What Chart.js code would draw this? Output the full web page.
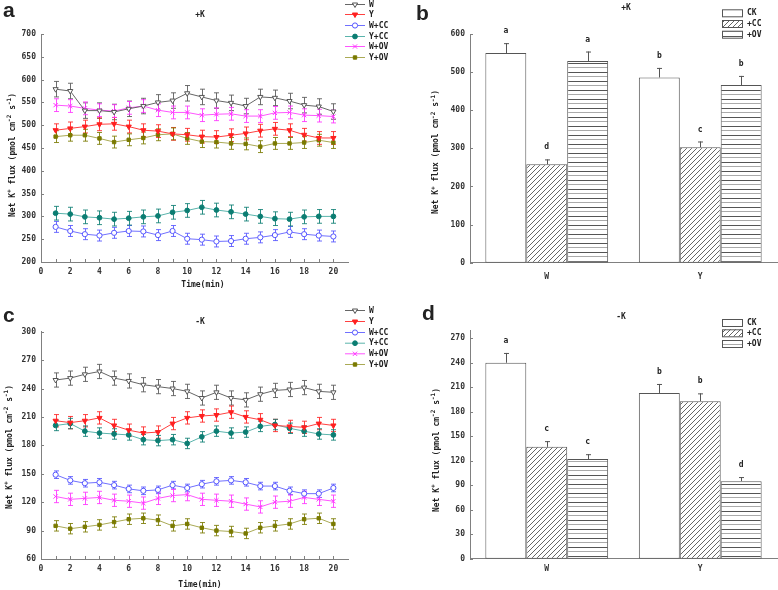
<!DOCTYPE html>
<html>
<head>
<meta charset="utf-8">
<script src="https://cdn.jsdelivr.net/npm/chart.js@4.4.1/dist/chart.umd.min.js"></script>
<style>
  body { margin: 0; background: #fff; width: 778px; height: 590px; position: relative; overflow: hidden; }
  canvas { position: absolute; }
</style>
</head>
<body>
<canvas id="chartA" width="390" height="295" style="left:0;top:0"></canvas>
<canvas id="chartB" width="388" height="295" style="left:390px;top:0"></canvas>
<canvas id="chartC" width="390" height="295" style="left:0;top:295px"></canvas>
<canvas id="chartD" width="388" height="295" style="left:390px;top:295px"></canvas>
<script>
// temps (min)
const times = [1, 2, 3, 4, 5, 6, 7, 8, 9, 10, 11, 12, 13, 14, 15, 16, 17, 18, 19, 20];
const seriesNames = ['W', 'Y', 'W+CC', 'Y+CC', 'W+OV', 'Y+OV'];

// +K, fluxo em função do tempo
const plusK_W   = [579, 575, 532, 532, 529, 536, 542, 550, 554, 570, 562, 554, 549, 542, 562, 560, 553, 544, 541, 530];
const plusK_Y   = [489, 493, 497, 502, 503, 497, 489, 487, 481, 479, 475, 474, 478, 482, 488, 492, 489, 479, 472, 472];
const plusK_WCC = [277, 268, 261, 258, 264, 268, 267, 259, 268, 251, 249, 245, 246, 251, 254, 259, 266, 261, 258, 256];
const plusK_YCC = [307, 305, 299, 297, 294, 296, 299, 301, 309, 313, 320, 314, 310, 305, 300, 295, 294, 299, 300, 300];
const plusK_WOV = [544, 542, 537, 533, 531, 538, 542, 533, 528, 528, 522, 524, 525, 520, 520, 527, 528, 522, 521, 519];
const plusK_YOV = [475, 478, 478, 471, 463, 468, 472, 479, 481, 471, 464, 463, 460, 459, 453, 460, 460, 462, 467, 462];
const plusK_err = [17, 14, 12, 15, 14, 13];

// -K, fluxo em função do tempo
const minusK_W   = [249, 251, 255, 258, 251, 248, 244, 242, 240, 237, 230, 236, 230, 228, 234, 238, 239, 241, 237, 236];
const minusK_Y   = [206, 204, 206, 209, 201, 196, 193, 194, 203, 209, 211, 212, 215, 210, 207, 201, 200, 199, 203, 201];
const minusK_WCC = [149, 143, 140, 141, 138, 134, 132, 133, 138, 135, 139, 142, 143, 141, 137, 137, 132, 129, 129, 135];
const minusK_YCC = [201, 203, 195, 193, 192, 191, 186, 185, 186, 182, 189, 195, 193, 194, 200, 202, 198, 195, 192, 191];
const minusK_WOV = [126, 123, 124, 125, 122, 121, 119, 124, 127, 128, 123, 122, 121, 118, 115, 120, 121, 125, 123, 121];
const minusK_YOV = [95, 92, 94, 96, 99, 102, 103, 101, 95, 97, 93, 90, 89, 87, 93, 95, 97, 102, 103, 97];
const minusK_err = [7.5, 6.5, 4, 5.5, 6.5, 5.5];

// médias por tratamento
const groups = ['W', 'Y'];
const treatments = ['CK', '+CC', '+OV'];
const barPlusK_CK = [550, 486];
const barPlusK_CC = [258, 303];
const barPlusK_OV = [529, 466];
const errPlusK_CK = [26, 25];
const errPlusK_CC = [13, 15];
const errPlusK_OV = [25, 24];
const letPlusK_CK = ['a', 'b'];
const letPlusK_CC = ['d', 'c'];
const letPlusK_OV = ['a', 'b'];

const barMinusK_CK = [240, 203];
const barMinusK_CC = [137, 193];
const barMinusK_OV = [122, 95];
const errMinusK_CK = [12, 11];
const errMinusK_CC = [7, 9.5];
const errMinusK_OV = [6, 5];
const letMinusK_CK = ['a', 'b'];
const letMinusK_CC = ['c', 'b'];
const letMinusK_OV = ['c', 'd'];

const MONO = '"DejaVu Sans Mono", monospace';
const tickFont = { family: MONO, size: 8, weight: 'bold' };
const axisGray = '#808080';

const lineStyles = [
    { line: '#666666', mark: '#555555', fill: '#ffffff', style: 'triangle', rot: 180, r: 3 },
    { line: '#ff4040', mark: '#ff2020', fill: '#ff2020', style: 'triangle', rot: 180, r: 3 },
    { line: '#7070ff', mark: '#5555ff', fill: '#ffffff', style: 'circle', rot: 0, r: 2.6 },
    { line: '#5ab4ac', mark: '#0b7d72', fill: '#0b7d72', style: 'circle', rot: 0, r: 2.4 },
    { line: '#ff55ff', mark: '#ff33ff', fill: '#ff33ff', style: 'crossRot', rot: 0, r: 3 },
    { line: '#aaaa55', mark: '#7a7a00', fill: '#7a7a00', style: 'rect', rot: 0, r: 2.4 }
];

// padrões das barras
function makePatterns() {
    const hc = document.createElement('canvas');
    hc.width = 5; hc.height = 5;
    const g = hc.getContext('2d');
    g.fillStyle = '#fff'; g.fillRect(0, 0, 5, 5);
    g.strokeStyle = '#555'; g.lineWidth = 0.9;
    g.beginPath();
    g.moveTo(0, 5); g.lineTo(5, 0);
    g.moveTo(-1, 1); g.lineTo(1, -1);
    g.moveTo(4, 6); g.lineTo(6, 4);
    g.stroke();

    const lc = document.createElement('canvas');
    lc.width = 4; lc.height = 9;
    const h = lc.getContext('2d');
    h.fillStyle = '#fff'; h.fillRect(0, 0, 4, 9);
    h.fillStyle = '#555'; h.fillRect(0, 0, 4, 1);
    h.fillStyle = '#aaa'; h.fillRect(0, 4, 4, 1);
    return { hatch: g.createPattern(hc, 'repeat'), hlines: h.createPattern(lc, 'repeat') };
}
const pats = makePatterns();
const barFills = ['#ffffff', pats.hatch, pats.hlines];

function richText(ctx, parts, x, y, rotated) {
    ctx.save();
    ctx.translate(x, y);
    if (rotated) ctx.rotate(-Math.PI / 2);
    const big = 'bold 8px ' + MONO, small = 'bold 6px ' + MONO;
    let w = 0;
    parts.forEach(p => { ctx.font = p[1] ? small : big; w += ctx.measureText(p[0]).width; });
    let cx = -w / 2;
    ctx.textBaseline = 'middle';
    ctx.textAlign = 'left';
    parts.forEach(p => {
        ctx.font = p[1] ? small : big;
        ctx.fillText(p[0], cx, p[1] ? -3 : 0);
        cx += ctx.measureText(p[0]).width;
    });
    ctx.restore();
}
const yTitle = [['Net K', 0], ['+', 1], [' flux\u00a0(pmol cm', 0], ['-2', 1], [' s', 0], ['-1', 1], [')', 0]];

function drawText(ctx, txt, x, y, font, align) {
    ctx.font = font;
    ctx.textAlign = align || 'center';
    ctx.textBaseline = 'middle';
    ctx.fillText(txt, x, y);
}

function decoPlugin(cfg) {
    return {
        id: 'deco',
        beforeDatasetsDraw(chart) {
            if (cfg.kind !== 'line') return;
            const ctx = chart.ctx, ys = chart.scales.y;
            ctx.save();
            ctx.lineWidth = 1;
            chart.data.datasets.forEach((ds, i) => {
                const meta = chart.getDatasetMeta(i);
                ctx.strokeStyle = lineStyles[i].mark;
                ctx.globalAlpha = 0.85;
                meta.data.forEach((pt, j) => {
                    const v = ds.data[j].y, e = cfg.errs[i];
                    const y1 = ys.getPixelForValue(v + e), y2 = ys.getPixelForValue(v - e);
                    const x = Math.round(pt.x) + 0.5;
                    ctx.beginPath();
                    ctx.moveTo(x, y1); ctx.lineTo(x, y2);
                    ctx.moveTo(x - 2.5, y1); ctx.lineTo(x + 2.5, y1);
                    ctx.moveTo(x - 2.5, y2); ctx.lineTo(x + 2.5, y2);
                    ctx.stroke();
                });
            });
            ctx.restore();
        },
        afterDraw(chart) {
            const ctx = chart.ctx, xs = chart.scales.x, ys = chart.scales.y;
            const area = chart.chartArea;
            ctx.save();
            // marcas internas
            ctx.strokeStyle = axisGray;
            ctx.lineWidth = 1;
            ctx.beginPath();
            ys.ticks.forEach(t => {
                const py = Math.round(ys.getPixelForValue(t.value)) + 0.5;
                ctx.moveTo(area.left, py); ctx.lineTo(area.left + 3, py);
            });
            if (cfg.kind === 'line') {
                for (let v = 1; v <= 20; v++) {
                    const px = Math.round(xs.getPixelForValue(v)) + 0.5;
                    ctx.moveTo(px, area.bottom); ctx.lineTo(px, area.bottom - 3);
                }
            }
            ctx.stroke();

            ctx.fillStyle = '#222';
            drawText(ctx, cfg.title, cfg.titleX, cfg.titleY, 'bold 8px ' + MONO);
            ctx.font = 'bold 21px "Liberation Sans", Arial, sans-serif';
            ctx.textAlign = 'left';
            ctx.textBaseline = 'alphabetic';
            ctx.fillText(cfg.letter, cfg.letterX, cfg.letterY);
            richText(ctx, yTitle, cfg.yTitleX, cfg.yTitleY, true);

            if (cfg.kind === 'line') {
                drawText(ctx, 'Time(min)', cfg.timeX, cfg.timeY, 'bold 8px ' + MONO);
                // legenda
                cfg.legendYs.forEach((ly, i) => {
                    const s = lineStyles[i];
                    ctx.strokeStyle = s.line;
                    ctx.lineWidth = 1;
                    ctx.beginPath();
                    ctx.moveTo(345, ly + 0.5); ctx.lineTo(365, ly + 0.5);
                    ctx.stroke();
                    ctx.fillStyle = s.fill;
                    ctx.strokeStyle = s.mark;
                    Chart.helpers.drawPoint(ctx, { pointStyle: s.style, rotation: s.rot, radius: s.r, borderWidth: 1 }, 355, ly + 0.5);
                    ctx.fillStyle = '#222';
                    drawText(ctx, seriesNames[i], 369, ly + 0.5, 'bold 8px ' + MONO, 'left');
                });
            } else {
                // barras de erro e letras
                ctx.strokeStyle = '#555';
                ctx.lineWidth = 1;
                chart.data.datasets.forEach((ds, i) => {
                    const meta = chart.getDatasetMeta(i);
                    meta.data.forEach((bar, j) => {
                        const v = ds.data[j], e = cfg.errs[i][j];
                        const top = ys.getPixelForValue(v + e);
                        const x = Math.round(bar.x) + 0.5;
                        ctx.beginPath();
                        ctx.moveTo(x, ys.getPixelForValue(v)); ctx.lineTo(x, top);
                        ctx.moveTo(x - 2.5, top + 0.5); ctx.lineTo(x + 2.5, top + 0.5);
                        ctx.stroke();
                        ctx.fillStyle = '#222';
                        drawText(ctx, cfg.letters[i][j], bar.x, top - 12, 'bold 8px ' + MONO);
                    });
                });
                cfg.legendYs.forEach((ly, i) => {
                    ctx.fillStyle = barFills[i];
                    ctx.fillRect(332, ly, 20, 7);
                    ctx.strokeStyle = '#555';
                    ctx.strokeRect(332.5, ly + 0.5, 20, 7);
                    ctx.fillStyle = '#222';
                    drawText(ctx, treatments[i], 357, ly + 4, 'bold 8px ' + MONO, 'left');
                });
            }
            ctx.restore();
        }
    };
}

function lineChart(id, arrays, cfg) {
    const datasets = arrays.map((arr, i) => {
        const s = lineStyles[i];
        return {
            label: seriesNames[i],
            data: times.map((t, k) => ({ x: t, y: arr[k] })),
            borderColor: s.line,
            borderWidth: 1,
            pointStyle: s.style,
            pointRotation: s.rot,
            pointRadius: s.r,
            pointBorderWidth: 1,
            pointBorderColor: s.mark,
            pointBackgroundColor: s.fill,
            tension: 0
        };
    });
    return new Chart(document.getElementById(id), {
        type: 'line',
        data: { datasets: datasets },
        options: {
            responsive: false,
            animation: false,
            events: [],
            layout: { autoPadding: false, padding: { top: cfg.top, right: 42, left: 0, bottom: 0 } },
            plugins: { legend: { display: false }, tooltip: { enabled: false } },
            scales: {
                x: {
                    type: 'linear', min: 0, max: 21,
                    grid: { display: false, drawTicks: false },
                    border: { display: true, color: axisGray },
                    ticks: { stepSize: 2, includeBounds: false, padding: 5, font: tickFont, color: '#333', maxRotation: 0 },
                    afterFit: s => { s.height = cfg.xh; }
                },
                y: {
                    min: cfg.yMin, max: cfg.yMax,
                    grid: { display: false, drawTicks: false },
                    border: { display: true, color: axisGray },
                    ticks: { stepSize: cfg.yStep, padding: 5, font: tickFont, color: '#333' },
                    afterFit: s => { s.width = 41; }
                }
            }
        },
        plugins: [decoPlugin(Object.assign({ kind: 'line' }, cfg))]
    });
}

function barChart(id, values, cfg) {
    return new Chart(document.getElementById(id), {
        type: 'bar',
        data: {
            labels: groups,
            datasets: values.map((v, i) => ({
                label: treatments[i],
                data: v,
                backgroundColor: barFills[i],
                borderColor: '#555',
                borderWidth: 1,
                borderSkipped: false,
                categoryPercentage: 0.8,
                barPercentage: 1.0
            }))
        },
        options: {
            responsive: false,
            animation: false,
            events: [],
            layout: { autoPadding: false, padding: { top: cfg.top, right: 1, left: 0, bottom: 0 } },
            plugins: { legend: { display: false }, tooltip: { enabled: false } },
            scales: {
                x: {
                    grid: { display: false, drawTicks: false },
                    border: { display: true, color: axisGray },
                    ticks: { padding: cfg.xPad, font: tickFont, color: '#333' },
                    afterFit: s => { s.height = cfg.xh; }
                },
                y: {
                    min: 0, max: cfg.yMax,
                    grid: { display: false, drawTicks: false },
                    border: { display: true, color: axisGray },
                    ticks: { stepSize: cfg.yStep, includeBounds: false, padding: 5, font: tickFont, color: '#333' },
                    afterFit: s => { s.width = 80; }
                }
            }
        },
        plugins: [decoPlugin(Object.assign({ kind: 'bar' }, cfg))]
    });
}

lineChart('chartA', [plusK_W, plusK_Y, plusK_WCC, plusK_YCC, plusK_WOV, plusK_YOV], {
    errs: plusK_err, yMin: 200, yMax: 700, yStep: 50, top: 34, xh: 33,
    title: '+K', titleX: 200, titleY: 15, letter: 'a', letterX: 3, letterY: 17,
    yTitleX: 12.5, yTitleY: 155, timeX: 203, timeY: 285,
    legendYs: [4, 14, 25, 36, 46, 57]
});

lineChart('chartC', [minusK_W, minusK_Y, minusK_WCC, minusK_YCC, minusK_WOV, minusK_YOV], {
    errs: minusK_err, yMin: 60, yMax: 300, yStep: 30, top: 36.7, xh: 31,
    title: '-K', titleX: 200, titleY: 26.7, letter: 'c', letterX: 3, letterY: 27,
    yTitleX: 9.5, yTitleY: 152, timeX: 200, timeY: 290,
    legendYs: [15, 26, 37, 47.7, 58.3, 69]
});

barChart('chartB', [barPlusK_CK, barPlusK_CC, barPlusK_OV], {
    errs: [errPlusK_CK, errPlusK_CC, errPlusK_OV],
    letters: [letPlusK_CK, letPlusK_CC, letPlusK_OV],
    yMax: 600, yStep: 100, top: 34, xh: 32.3, xPad: 9,
    title: '+K', titleX: 236, titleY: 7.5, letter: 'b', letterX: 26, letterY: 19.5,
    yTitleX: 46, yTitleY: 152,
    legendYs: [9.3, 20, 30.7]
});

barChart('chartD', [barMinusK_CK, barMinusK_CC, barMinusK_OV], {
    errs: [errMinusK_CK, errMinusK_CC, errMinusK_OV],
    letters: [letMinusK_CK, letMinusK_CC, letMinusK_OV],
    yMax: 280, yStep: 30, top: 35.1, xh: 31.3, xPad: 5,
    title: '-K', titleX: 231, titleY: 21.7, letter: 'd', letterX: 32, letterY: 25,
    yTitleX: 46.5, yTitleY: 155,
    legendYs: [24, 34.3, 45]
});
</script>
</body>
</html>
